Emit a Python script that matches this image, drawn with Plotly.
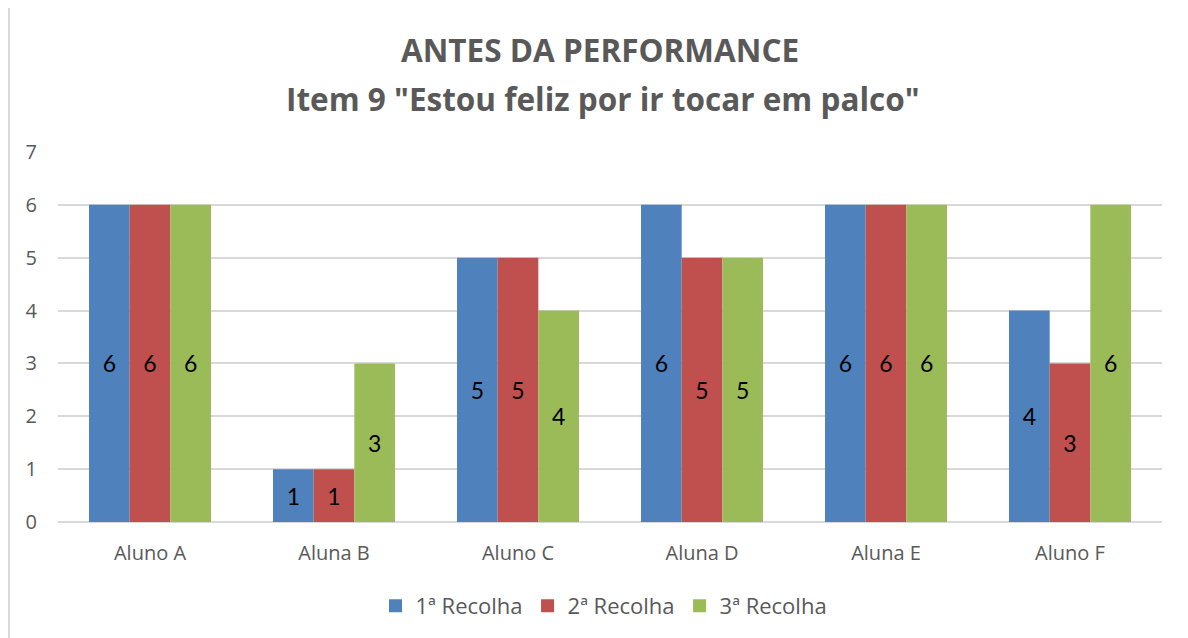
import plotly.graph_objects as go

categories = ["Aluno A", "Aluna B", "Aluno C", "Aluna D", "Aluna E", "Aluno F"]
series_names = ["1ª Recolha", "2ª Recolha", "3ª Recolha"]
recolha1 = [6, 1, 5, 6, 6, 4]
recolha2 = [6, 1, 5, 5, 6, 3]
recolha3 = [6, 3, 4, 5, 6, 6]
colors = ["#4F81BD", "#C0504D", "#9BBB59"]
title_line1 = "ANTES DA PERFORMANCE"
title_line2 = "Item 9 \"Estou feliz por ir tocar em palco\""

W, H = 1188, 638
OFF = 8  # page body offset
# target screen plot area: x 58..1162, y 152..522
L = 58 - OFF
R = W - (1162 - OFF)
T = 152 - OFF
B = H - (522 - OFF)
pw, ph = W - L - R, H - T - B

def px_x(x):
    return (x - OFF - L) / pw

def px_y(y):
    return (H - B - (y - OFF)) / ph

fig = go.Figure()
for name, vals, col in zip(series_names, [recolha1, recolha2, recolha3], colors):
    fig.add_trace(go.Bar(
        x=categories, y=vals, name=name, showlegend=False,
        marker=dict(color=col, line=dict(width=0)),
        text=[str(v) for v in vals], textposition="inside",
        insidetextanchor="middle",
        textfont=dict(color="#000000", size=23, family="Lato"),
        textangle=0,
    ))
# legend entries with larger square swatches
for name, col in zip(series_names, colors):
    fig.add_trace(go.Scatter(
        x=[None], y=[None], mode="markers", name=name,
        marker=dict(symbol="square", size=13, color=col),
    ))

fig.update_layout(
    width=W, height=H,
    margin=dict(l=L, r=R, t=T, b=B),
    paper_bgcolor="white", plot_bgcolor="white",
    barmode="group", bargap=0.337, bargroupgap=0,
    font=dict(family="Open Sans", color="#595959", size=20),
    showlegend=True,
    legend=dict(orientation="h", x=px_x(604), xanchor="center", y=px_y(606), yanchor="middle",
                font=dict(size=22, color="#595959"), itemsizing="trace",
                traceorder="normal", itemwidth=30),
    yaxis=dict(range=[0, 7], dtick=1, showgrid=True, gridcolor="#D9D9D9", gridwidth=2,
               zeroline=True, zerolinecolor="#D9D9D9", zerolinewidth=2, showline=False,
               ticks="", tickfont=dict(size=20, color="#595959"), ticklabelstandoff=20),
    xaxis=dict(showline=False, ticks="", tickfont=dict(size=20, color="#595959"),
               ticklabelstandoff=17),
    annotations=[
        dict(text="<b>" + title_line1 + "</b>", xref="paper", yref="paper",
             x=px_x(600), y=px_y(50), xanchor="center", yanchor="middle", showarrow=False,
             font=dict(family="Open Sans", size=31.5, color="#595959")),
        dict(text="<b>" + title_line2 + "</b>", xref="paper", yref="paper",
             x=px_x(603), y=px_y(99), xanchor="center", yanchor="middle", showarrow=False,
             font=dict(family="Open Sans", size=31.5, color="#595959")),
    ],
    shapes=[dict(type="line", xref="paper", yref="paper", x0=px_x(9), x1=px_x(9),
                 y0=px_y(8), y1=px_y(660), line=dict(color="#D9D9D9", width=2))],
)

fig.write_html("out.html")
